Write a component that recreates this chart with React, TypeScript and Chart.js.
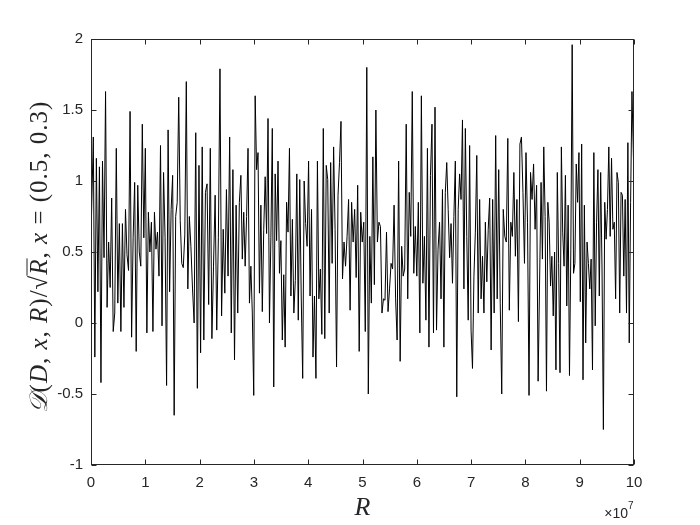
import React, { useEffect, useRef } from "react";
import { Chart, registerables } from "chart.js";

Chart.register(...registerables);

// segment boundaries along R (in units of 1e7), values read per segment
const segBreaks = [0, 0.903, 1.825, 2.747, 3.668, 4.59, 5.512, 6.433, 7.355, 8.276, 9.198, 10.0];

const seg0 = [0.6, 1.31, -0.24, 1.16, 0.22, 1.1, -0.42, 1.14, 0.46, 1.63, 0.11, 0.57, 0.25, 0.88, -0.06, 0.07, 1.23, 0.14, 0.7, -0.06, 0.7, 0.11, 0.8, 0.48, 0.37, 1.49, -0.1, 0.6, 0.99, -0.2, 0.97, 0.5];
const seg1 = [0.4, 1.4, 0.6, 1.23, -0.07, 0.78, 0.5, 0.71, -0.06, 0.78, 0.52, 0.64, 0.33, 1.25, -0.02, 1.06, 0.6, -0.44, 1.36, 0.22, 0.8, 1.04, -0.65, 0.75, 0.85, 1.59, 0.72, 0.42, 0.39, 0.62, 1.7, 0.24, 0.75];
const seg2 = [0.54, 0.24, 0.0, 1.34, -0.46, 1.11, -0.21, 1.24, -0.12, 0.92, 0.98, 0.13, 1.23, -0.11, 0.4, 0.9, -0.05, 0.6, 1.79, 0.05, 0.66, 0.21, 0.94, 0.33, 1.31, -0.07, 1.08, -0.26, 0.83, 0.07, 0.85];
const seg3 = [1.04, 0.45, 0.78, 0.4, 0.75, 1.23, 0.14, 0.4, 0.07, -0.51, 1.6, 1.08, 1.2, 0.21, 0.83, 0.08, 0.66, 1.03, 0.63, 1.44, 0.0, 0.6, 1.37, -0.45, 1.05, 0.58, 1.14, 0.35, 0.58, -0.12, 0.34, -0.17, 0.85, 0.64, 1.23];
const seg4 = [0.19, 0.73, 0.07, 0.3, 1.05, 0.02, 1.01, 0.19, -0.39, 1.0, 0.7, 0.54, 1.14, 0.19, 0.8, -0.24, 0.19, -0.39, 1.14, 0.17, 0.38, -0.08, 1.37, -0.11, 1.11, 1.01, 0.07, 1.13, 0.42, 1.24, 0.66, -0.31, 0.9, 1.13];
const seg5 = [1.42, 0.31, 0.57, 0.4, 0.61, 0.87, 0.09, 0.85, 0.57, 0.8, 0.32, 0.97, -0.2, 0.78, 0.57, 0.71, -0.06, 1.8, -0.5, 0.61, 0.14, 1.17, 0.27, 1.5, 0.57, 0.71, 0.68, 0.07, 0.17, 0.16, 0.64, 0.08, 0.24];
const seg6 = [0.42, 0.38, 0.83, 0.17, -0.12, 1.14, -0.27, 0.54, 0.33, 0.38, 1.4, 0.17, 0.92, 0.61, 1.63, 0.35, 0.68, 0.33, 0.85, -0.07, 1.6, 0.28, 0.61, 0.02, 1.23, -0.17, 1.04, 1.4, -0.07, 1.52, -0.05, 0.52, 0.71];
const seg7 = [0.17, 0.94, -0.17, 0.92, 1.13, 0.8, 0.46, 0.7, 0.28, 0.75, 1.14, -0.52, 0.8, 1.05, 0.87, 1.43, 0.24, 1.37, 0.61, 0.02, 1.25, -0.05, -0.32, 0.33, 0.64, 1.18, 0.07, 0.87, 0.17, 0.47, 0.07, 0.71, 0.29, 0.66, 0.88];
const seg8 = [-0.19, 0.87, 0.07, 1.32, 0.17, 1.08, 0.14, -0.5, 0.8, 0.61, 0.57, 1.3, 0.09, 0.71, 0.61, 1.06, 0.47, 0.87, 0.01, 1.26, 1.31, 0.92, 0.42, 1.2, 0.71, -0.51, 1.06, 0.87, 1.12, 0.66, 0.97, -0.41, 0.31];
const seg9 = [0.99, 0.45, 1.24, 0.75, -0.48, 0.85, 0.71, 0.26, 0.47, 0.05, 0.5, -0.33, 1.06, 0.42, -0.35, 1.24, 0.64, 0.4, 1.04, 0.12, 0.83, -0.37, 0.52, 1.96, 0.35, 0.42, 1.12, 0.85, 1.2, 0.15, 1.26, -0.4, 0.83, -0.14, 0.57, 0.42, 0.24];
const seg10 = [0.45, -0.33, 1.2, -0.02, 0.71, 1.08, 0.19, 1.06, 0.38, -0.75, 0.85, 0.59, 0.8, 1.24, 0.61, 1.16, 0.66, 0.71, 0.17, 1.06, 0.99, 0.07, 0.92, 0.9, 0.33, 0.87, 0.07, 1.27, -0.14, 0.85, 1.63, 0.99];

const segments = [seg0, seg1, seg2, seg3, seg4, seg5, seg6, seg7, seg8, seg9, seg10];

const xTicks = [0, 1, 2, 3, 4, 5, 6, 7, 8, 9, 10];
const yTicks = [-1, -0.5, 0, 0.5, 1, 1.5, 2];
const xScaleFactor = 1e7;

function buildPoints() {
  const pts: { x: number; y: number }[] = [];
  segments.forEach((seg, k) => {
    const a = segBreaks[k];
    const b = segBreaks[k + 1];
    seg.forEach((v, i) => {
      pts.push({ x: (a + ((b - a) * (i + 0.5)) / seg.length) * xScaleFactor, y: v });
    });
  });
  pts[0].x = 0;
  pts[pts.length - 1].x = 10 * xScaleFactor;
  return pts;
}

const AXIS_COLOR = "#262626";

const framePlugin = {
  id: "matlabFrame",
  afterDraw(chart: any) {
    const { ctx, chartArea: a, scales } = chart;
    ctx.save();
    ctx.strokeStyle = AXIS_COLOR;
    ctx.lineWidth = 1;
    const L = Math.round(a.left) + 0.5;
    const R = Math.round(a.right) - 0.5;
    const T = Math.round(a.top) + 0.5;
    const B = Math.round(a.bottom) - 0.5;
    ctx.strokeRect(L, T, R - L, B - T);
    const tl = 5;
    ctx.beginPath();
    xTicks.forEach((t) => {
      const px = Math.round(scales.x.getPixelForValue(t * xScaleFactor)) + 0.5;
      ctx.moveTo(px, B);
      ctx.lineTo(px, B - tl);
      ctx.moveTo(px, T);
      ctx.lineTo(px, T + tl);
    });
    yTicks.forEach((t) => {
      const py = Math.round(scales.y.getPixelForValue(t)) + 0.5;
      ctx.moveTo(L, py);
      ctx.lineTo(L + tl, py);
      ctx.moveTo(R, py);
      ctx.lineTo(R - tl, py);
    });
    ctx.stroke();

    // x title
    ctx.fillStyle = AXIS_COLOR;
    ctx.textAlign = "center";
    ctx.textBaseline = "alphabetic";
    ctx.font = 'italic 26px "Liberation Serif"';
    ctx.fillText("R", (a.left + a.right) / 2, 515);

    // exponent label
    ctx.font = '14px "Liberation Sans"';
    ctx.textAlign = "right";
    ctx.fillText("×10", a.right - 6, 518);
    ctx.font = '10px "Liberation Sans"';
    ctx.textAlign = "left";
    ctx.fillText("7", a.right - 6, 509);

    // y title (rich text, rotated)
    const size = 25;
    const normal = `${size}px "Liberation Serif"`;
    const ital = `italic ${size}px "Liberation Serif"`;
    const segs = [
      { t: "𝒟", f: ital },
      { t: "(", f: normal },
      { t: "D", f: ital },
      { t: ", ", f: normal },
      { t: "x", f: ital },
      { t: ", ", f: normal },
      { t: "R", f: ital },
      { t: ")/", f: normal },
      { t: "√", f: normal },
      { t: "R", f: ital, over: true },
      { t: ", ", f: normal },
      { t: "x", f: ital },
      { t: " = (0.5, 0.3)", f: normal },
    ];
    (ctx as any).letterSpacing = "1px";
    let total = 0;
    const widths = segs.map((s) => {
      ctx.font = s.f;
      const w = ctx.measureText(s.t).width;
      total += w;
      return w;
    });
    ctx.translate(47, 257);
    ctx.rotate(-Math.PI / 2);
    ctx.textAlign = "left";
    let x = -total / 2;
    segs.forEach((s, i) => {
      ctx.font = s.f;
      ctx.fillText(s.t, x, 0);
      if ((s as any).over) {
        ctx.beginPath();
        ctx.lineWidth = 1;
        ctx.moveTo(x - 1, -size * 0.8);
        ctx.lineTo(x + widths[i], -size * 0.8);
        ctx.stroke();
      }
      x += widths[i];
    });
    ctx.restore();
  },
};

export default function App() {
  const ref = useRef<HTMLCanvasElement>(null);
  useEffect(() => {
    if (!ref.current) return;
    const chart = new Chart(ref.current, {
      type: "line",
      data: {
        datasets: [
          {
            data: buildPoints(),
            borderColor: "#000000",
            borderWidth: 1,
            pointRadius: 0,
            tension: 0,
            fill: false,
          },
        ],
      },
      options: {
        responsive: false,
        animation: false,
        devicePixelRatio: 1,
        layout: { padding: { left: 0, top: 39, right: 66, bottom: 0 } },
        plugins: { legend: { display: false }, tooltip: { enabled: false } },
        scales: {
          x: {
            type: "linear",
            min: 0,
            max: 10 * xScaleFactor,
            grid: { display: false, drawTicks: false },
            border: { display: false },
            afterFit: (s: any) => {
              s.height = 60;
            },
            afterBuildTicks: (s: any) => {
              s.ticks = xTicks.map((t) => ({ value: t * xScaleFactor }));
            },
            ticks: {
              padding: 9,
              maxRotation: 0,
              autoSkip: false,
              color: AXIS_COLOR,
              font: { family: "Liberation Sans", size: 15 },
              callback: (v: any) => String(Math.round(Number(v) / xScaleFactor)),
            },
          },
          y: {
            min: -1,
            max: 2,
            grid: { display: false, drawTicks: false },
            border: { display: false },
            afterFit: (s: any) => {
              s.width = 91;
            },
            afterBuildTicks: (s: any) => {
              s.ticks = yTicks.map((t) => ({ value: t }));
            },
            ticks: {
              padding: 8,
              autoSkip: false,
              color: AXIS_COLOR,
              font: { family: "Liberation Sans", size: 15 },
              callback: (v: any) => String(v),
            },
          },
        },
      },
      plugins: [framePlugin],
    });
    return () => chart.destroy();
  }, []);
  return (
    <div style={{ position: "absolute", left: 0, top: 0, width: 700, height: 525, background: "#fff" }}>
      <canvas ref={ref} width={700} height={525} />
    </div>
  );
}
